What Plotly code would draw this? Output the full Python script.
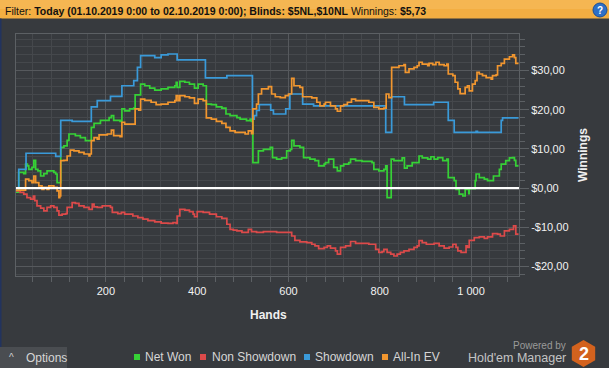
import plotly.graph_objects as go

# ---------------- data ----------------
net_won_hands = [3, 9, 20, 24, 28, 31, 38, 42, 46, 51,
                 57, 64, 71, 86, 90, 93, 101, 108, 115, 119,
                 133, 144, 155, 168, 174, 188, 207, 212, 217, 231,
                 235, 241, 252, 261, 264, 276, 285, 296, 307, 321,
                 336, 351, 354, 356, 362, 373, 383, 394, 402, 413,
                 420, 431, 442, 454, 463, 472, 487, 494, 508, 516,
                 519, 522, 534, 545, 560, 565, 574, 585, 596, 604,
                 607, 612, 625, 633, 647, 658, 666, 678, 681, 688,
                 699, 707, 714, 721, 732, 736, 747, 761, 783, 787,
                 798, 809, 813, 816, 825, 831, 849, 854, 860, 871,
                 886, 893, 905, 912, 919, 927, 938, 947, 950, 963,
                 967, 974, 982, 987, 995, 996, 1009, 1011, 1018, 1029,
                 1036, 1049, 1062, 1066, 1076, 1084, 1091, 1095, 1098, 1104]
net_won = [-1.0, 4.0, 3.7, 6.1, 5.7, 4.8, 5.3, 7.1, 4.8, 4.4,
           3.1, 3.7, 4.4, 4.0, 3.6, 1.4, 10.4, 10.8, 12.2, 13.8,
           13.4, 12.9, 12.1, 15.5, 16.5, 17.3, 18.0, 18.5, 17.3, 17.0,
           20.2, 19.7, 20.2, 20.4, 23.8, 26.5, 26.1, 25.5, 25.0, 25.3,
           25.7, 26.1, 27.0, 25.7, 27.2, 27.0, 26.5, 25.5, 26.5, 26.1,
           21.4, 21.3, 20.7, 20.4, 18.9, 18.5, 18.0, 17.6, 17.2, 17.6,
           17.0, 6.5, 9.5, 9.9, 10.4, 7.8, 7.4, 7.7, 9.5, 9.9,
           12.2, 10.8, 10.4, 7.8, 7.4, 7.0, 5.7, 6.1, 6.5, 7.4,
           5.3, 4.4, 5.7, 6.1, 6.5, 7.4, 7.0, 6.8, 6.5, 4.8,
           4.4, 4.8, 5.7, -2.4, 7.4, 7.0, 7.7, 5.1, 5.7, 6.5,
           8.2, 7.7, 7.4, 8.0, 7.4, 7.8, 7.0, 7.4, 2.7, 1.9,
           -0.3, -1.5, -2.0, -0.3, -1.4, -0.1, 1.9, 3.6, 2.7, 2.3,
           1.9, 3.1, 4.8, 6.1, 7.0, 7.7, 7.8, 7.1, 5.7, 5.7]

non_showdown_hands = [3, 12, 20, 27, 35, 41, 44, 49, 57, 64,
                      71, 79, 86, 93, 97, 104, 112, 115, 126, 133,
                      141, 152, 163, 170, 174, 181, 192, 210, 214, 226,
                      234, 241, 259, 270, 281, 292, 307, 321, 336, 347,
                      354, 356, 362, 373, 383, 391, 394, 400, 413, 427,
                      442, 454, 465, 472, 479, 487, 498, 512, 519, 530,
                      545, 574, 607, 614, 625, 640, 651, 658, 666, 678,
                      685, 692, 703, 707, 714, 725, 736, 747, 776, 791,
                      798, 805, 809, 816, 824, 831, 838, 845, 853, 864,
                      875, 882, 886, 893, 902, 919, 930, 941, 952, 960,
                      967, 971, 978, 989, 992, 996, 1007, 1018, 1029, 1036,
                      1047, 1058, 1064, 1073, 1084, 1093, 1098, 1104]
non_showdown = [-0.7, -1.1, -1.5, -2.4, -2.8, -2.0, -3.2, -4.5, -5.1, -5.8,
                -4.9, -4.5, -4.9, -5.8, -6.9, -6.6, -6.5, -4.9, -3.7, -3.9,
                -4.5, -4.9, -5.4, -4.1, -4.8, -4.9, -4.5, -4.9, -6.2, -6.5,
                -6.2, -6.6, -7.1, -7.5, -7.9, -8.3, -8.6, -8.9, -9.0, -8.8,
                -9.0, -7.1, -5.4, -5.6, -6.0, -6.6, -7.3, -6.0, -6.2, -6.6,
                -7.3, -7.7, -9.2, -10.5, -10.7, -10.9, -11.3, -10.5, -11.1, -11.3,
                -11.1, -11.3, -12.2, -13.3, -13.7, -13.9, -14.3, -14.7, -15.4, -15.1,
                -14.7, -15.3, -16.0, -16.8, -15.1, -14.7, -13.6, -14.1, -14.3, -15.6,
                -16.4, -16.2, -15.6, -16.4, -16.8, -17.3, -16.8, -16.4, -16.0, -15.6,
                -15.1, -14.7, -13.4, -13.9, -14.3, -14.1, -14.7, -15.3, -15.0, -14.3,
                -15.1, -16.0, -16.4, -14.7, -15.1, -13.3, -12.6, -12.4, -12.8, -12.4,
                -11.6, -11.7, -12.2, -10.9, -10.5, -9.6, -11.7, -11.7]

showdown_hands = [3, 9, 25, 90, 101, 126, 168, 181, 210, 235,
                  261, 269, 276, 307, 321, 336, 356, 418, 465, 521,
                  525, 530, 536, 561, 567, 594, 603, 631, 655, 813,
                  826, 854, 918, 950, 963, 1011, 1014, 1066, 1069, 1104]
showdown = [0.0, 4.8, 8.9, 8.1, 17.3, 17.0, 20.7, 22.3, 23.4, 26.1,
            27.4, 30.8, 33.8, 33.3, 34.0, 34.2, 32.7, 28.1, 28.7, 17.6,
            18.5, 19.8, 21.3, 19.9, 18.9, 20.2, 24.0, 21.4, 21.0, 14.2,
            23.3, 21.3, 21.9, 17.3, 14.2, 14.5, 14.2, 17.3, 17.9, 17.9]

all_in_ev_hands = [3, 24, 31, 38, 42, 46, 53, 60, 64, 71,
                   75, 86, 93, 97, 99, 101, 108, 115, 122, 130,
                   141, 152, 163, 165, 168, 174, 181, 185, 203, 212,
                   217, 231, 235, 241, 259, 264, 272, 276, 285, 299,
                   310, 321, 336, 351, 354, 358, 362, 373, 383, 394,
                   402, 413, 420, 431, 442, 454, 463, 472, 483, 505,
                   512, 519, 522, 530, 534, 541, 556, 563, 571, 582,
                   593, 600, 607, 612, 625, 631, 651, 662, 669, 678,
                   681, 692, 703, 707, 714, 721, 729, 738, 747, 776,
                   787, 798, 809, 814, 820, 826, 842, 853, 856, 864,
                   875, 882, 886, 893, 905, 908, 916, 923, 930, 941,
                   947, 950, 960, 965, 971, 976, 985, 987, 992, 996,
                   1003, 1009, 1013, 1018, 1025, 1033, 1044, 1047, 1055, 1058,
                   1066, 1073, 1084, 1091, 1095, 1098, 1104]
all_in_ev = [-0.5, 2.3, 1.9, 1.4, 3.1, 1.4, 0.6, -0.3, 0.2, -0.3,
             0.6, 0.2, -0.7, -2.4, -2.0, 7.0, 7.1, 8.2, 9.7, 9.5,
             9.1, 8.7, 8.2, 8.7, 12.1, 12.9, 12.5, 13.6, 13.8, 14.8,
             13.4, 13.1, 16.8, 16.3, 16.3, 20.2, 19.9, 22.7, 22.4, 21.9,
             21.3, 21.4, 21.9, 22.3, 23.6, 22.3, 23.6, 23.3, 23.0, 21.6,
             22.7, 22.3, 17.9, 17.6, 17.0, 16.5, 15.5, 14.6, 14.2, 13.8,
             14.6, 13.9, 20.2, 21.4, 24.0, 25.3, 25.9, 24.0, 23.3, 23.1,
             23.6, 24.0, 28.0, 26.1, 25.7, 23.3, 23.0, 21.9, 21.0, 21.4,
             21.9, 21.0, 20.2, 19.6, 21.0, 21.3, 21.9, 22.7, 22.3, 21.9,
             20.6, 20.2, 20.4, 24.0, 23.1, 30.8, 31.2, 31.5, 29.5, 30.4,
             30.8, 31.2, 32.1, 31.6, 31.2, 31.8, 31.5, 32.1, 31.5, 31.2,
             31.6, 29.1, 28.7, 27.0, 25.3, 24.1, 24.1, 25.7, 26.1, 24.8,
             26.5, 27.4, 29.5, 29.1, 28.7, 28.2, 27.8, 28.7, 28.9, 31.2,
             31.8, 32.9, 33.5, 34.0, 33.3, 31.8, 31.8]

series_names = ["Net Won", "Non Showdown", "Showdown", "All-In EV"]
series_colors = ["#36d136", "#dc4a4a", "#3a9ad9", "#f1962f"]

x_tick_vals = [200, 400, 600, 800, 1000]
x_tick_text = ["200", "400", "600", "800", "1 000"]
y_tick_vals = [-20, -10, 0, 10, 20, 30]
y_tick_text = ["-$20,00", "-$10,00", "$0,00", "$10,00", "$20,00", "$30,00"]

header_text = ("Filter: <b>Today (01.10.2019 0:00 to 02.10.2019 0:00); Blinds: $5NL,$10NL</b>"
               " Winnings: <b>$5,73</b>")

# ---------------- layout helpers ----------------
W, H = 609, 368
PL, PR, PT, PB = 16, 519, 34, 276


def xp(px):
    return (px - PL) / (PR - PL)


def yp(py):
    return (PB - py) / (PB - PT)


BG = "#373a3e"
GRID_MAJ = "#56595d"
GRID_MIN = "#45484c"
BORDER = "#5c6064"
FONT = "Liberation Sans"

fig = go.Figure()
data = [(net_won_hands, net_won), (non_showdown_hands, non_showdown),
        (showdown_hands, showdown), (all_in_ev_hands, all_in_ev)]
for (hx, vals), name, col in zip(data, series_names, series_colors):
    fig.add_trace(go.Scatter(x=hx, y=vals, mode="lines", name=name,
                             line=dict(color=col, width=1.7, shape="hv"),
                             hoverinfo="skip", showlegend=False))

shapes = []
annotations = []

# header bar
shapes.append(dict(type="rect", xref="paper", yref="paper", x0=xp(0), x1=xp(W),
                   y0=yp(18.5), y1=yp(0), fillcolor="#f3ae42", line=dict(width=0), layer="below"))
shapes.append(dict(type="rect", xref="paper", yref="paper", x0=xp(0), x1=xp(W),
                   y0=yp(9), y1=yp(0), fillcolor="#f5b652", line=dict(width=0), layer="below"))
annotations.append(dict(text=header_text, xref="paper", yref="paper", x=xp(3), y=yp(10.5),
                        xanchor="left", yanchor="middle", showarrow=False,
                        font=dict(family=FONT, size=10.5, color="#111111")))
# help icon
shapes.append(dict(type="circle", xref="paper", yref="paper", x0=xp(593), x1=xp(607),
                   y0=yp(17), y1=yp(3), fillcolor="#2d6fc6", line=dict(color="#1c4f95", width=1)))
annotations.append(dict(text="<b>?</b>", xref="paper", yref="paper", x=xp(600), y=yp(10),
                        xanchor="center", yanchor="middle", showarrow=False,
                        font=dict(family=FONT, size=10, color="white")))
# left blue edge
shapes.append(dict(type="rect", xref="paper", yref="paper", x0=xp(0), x1=xp(1.5),
                   y0=yp(H), y1=yp(18.5), fillcolor="#22335e", line=dict(width=0)))

# zero line
shapes.append(dict(type="line", xref="paper", yref="y", x0=0, x1=1, y0=0, y1=0,
                   line=dict(color="white", width=2.2), layer="above"))

# axis titles
annotations.append(dict(text="<b>Hands</b>", xref="paper", yref="paper", x=xp(268), y=yp(315),
                        xanchor="center", yanchor="middle", showarrow=False,
                        font=dict(family=FONT, size=12, color="#f0f0f0")))
annotations.append(dict(text="<b>Winnings</b>", xref="paper", yref="paper", x=xp(583), y=yp(155),
                        xanchor="center", yanchor="middle", showarrow=False, textangle=-90,
                        font=dict(family=FONT, size=12, color="#f0f0f0")))

# legend
sq_x = [134, 200, 304, 382]
txt_x = [143, 210, 313, 391]
for name, col, sx, tx in zip(series_names, series_colors, sq_x, txt_x):
    shapes.append(dict(type="rect", xref="paper", yref="paper", x0=xp(sx), x1=xp(sx + 6),
                       y0=yp(360), y1=yp(354), fillcolor=col, line=dict(width=0)))
    annotations.append(dict(text=name, xref="paper", yref="paper", x=xp(tx), y=yp(357),
                            xanchor="left", yanchor="middle", showarrow=False,
                            font=dict(family=FONT, size=12, color="#d6d6d6")))

# options button
shapes.append(dict(type="rect", xref="paper", yref="paper", x0=xp(0), x1=xp(67),
                   y0=yp(H), y1=yp(347), fillcolor="#4a4d51", line=dict(width=0)))
annotations.append(dict(text="^", xref="paper", yref="paper", x=xp(11), y=yp(357),
                        xanchor="center", yanchor="middle", showarrow=False,
                        font=dict(family=FONT, size=10, color="#d0d0d0")))
annotations.append(dict(text="Options", xref="paper", yref="paper", x=xp(24), y=yp(358),
                        xanchor="left", yanchor="middle", showarrow=False,
                        font=dict(family=FONT, size=12, color="#d6d6d6")))

# footer branding
annotations.append(dict(text="Powered by", xref="paper", yref="paper", x=xp(568), y=yp(345),
                        xanchor="right", yanchor="middle", showarrow=False,
                        font=dict(family=FONT, size=10, color="#9a9a9a")))
annotations.append(dict(text="Hold'em Manager", xref="paper", yref="paper", x=xp(568), y=yp(357.5),
                        xanchor="right", yanchor="middle", showarrow=False,
                        font=dict(family=FONT, size=12.5, color="#c4c4c4")))
cx, cy, r = 583.5, 353.5, 13.5
hexpts = [(cx, cy - r), (cx + 0.866 * r, cy - r / 2), (cx + 0.866 * r, cy + r / 2),
          (cx, cy + r), (cx - 0.866 * r, cy + r / 2), (cx - 0.866 * r, cy - r / 2)]
path = "M " + " L ".join(f"{xp(a):.5f},{yp(b):.5f}" for a, b in hexpts) + " Z"
shapes.append(dict(type="path", xref="paper", yref="paper", path=path,
                   fillcolor="#d3621e", line=dict(width=0)))
annotations.append(dict(text="<b>2</b>", xref="paper", yref="paper", x=xp(cx), y=yp(cy),
                        xanchor="center", yanchor="middle", showarrow=False,
                        font=dict(family=FONT, size=18, color="white")))

tickfont = dict(family=FONT, size=11, color="#f2f2f2")
fig.update_layout(
    width=W, height=H,
    margin=dict(l=PL, r=W - PR, t=PT, b=H - PB, pad=0),
    paper_bgcolor=BG, plot_bgcolor=BG, showlegend=False,
    xaxis=dict(range=[3, 1105], tickmode="array", tickvals=x_tick_vals, ticktext=x_tick_text,
               ticks="outside", ticklen=5, tickcolor=BORDER, tickfont=tickfont,
               showgrid=True, gridcolor=GRID_MAJ, gridwidth=1,
               minor=dict(dtick=40, tick0=0, showgrid=True, gridcolor=GRID_MIN,
                          ticks="outside", ticklen=5, tickcolor=BORDER),
               showline=True, linecolor=BORDER, linewidth=1, mirror=True,
               zeroline=False, fixedrange=True),
    yaxis=dict(side="right", range=[-22.4, 39.3], tickmode="array", tickvals=y_tick_vals,
               ticktext=y_tick_text, ticks="outside", ticklen=9, tickcolor=BORDER,
               tickfont=tickfont,
               showgrid=True, gridcolor=GRID_MAJ, gridwidth=1,
               minor=dict(dtick=2, tick0=0, showgrid=True, gridcolor=GRID_MIN,
                          ticks="outside", ticklen=5, tickcolor=BORDER),
               showline=True, linecolor=BORDER, linewidth=1, mirror=True,
               zeroline=False, fixedrange=True),
    shapes=shapes, annotations=annotations,
)

fig.write_html("out.html", config={"displayModeBar": False},
               post_script="document.body.style.margin='0';document.body.style.overflow='hidden';")
